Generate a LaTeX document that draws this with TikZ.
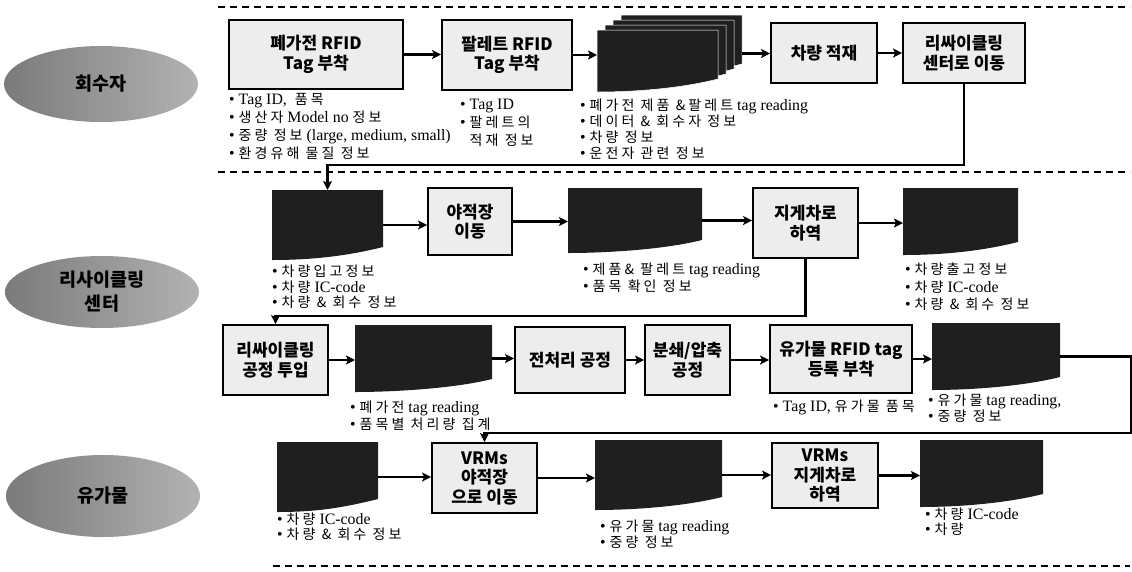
\documentclass[tikz,border=0pt]{standalone}
\usepackage{fontspec}
\setmainfont{Liberation Serif}[Scale=1.22]
\newfontfamily\kr{Noto Sans CJK KR}
\newfontfamily\kra{Noto Sans CJK KR}[LetterSpace=22]
\usetikzlibrary{arrows.meta,shapes.geometric}
\newcommand\kor[1]{{\kra\fontsize{14}{14}\selectfont #1}}
\newcommand\docshape[1]{%
  \fill[black!88] (#1.north west) -- (#1.north east) -- ([yshift=13pt]#1.south east)
    .. controls ([xshift=-40pt,yshift=3pt]#1.south east) and ([xshift=35pt,yshift=0pt]#1.south west) .. (#1.south west) -- cycle;}
\newcommand\docat[4]{% x1 y1 x2 y2 (y down)
  \fill[black!88,draw=white,line width=0.5pt] (#1,#2) -- (#3,#2) -- (#3,#4-13)
    .. controls (#3-40,#4-3) and (#1+35,#4) .. (#1,#4) -- cycle;}
\begin{document}
\begin{tikzpicture}[x=1pt,y=-1pt,
  proc/.style={draw=black, line width=1.8pt, fill=black!7, align=center, inner sep=0pt,
    font=\kr\bfseries\fontsize{17}{19.5}\selectfont},
  docn/.style={inner sep=0pt, outer sep=0pt},
  lane/.style={ellipse, minimum width=194pt, minimum height=76pt, inner sep=0pt, align=center,
    left color=black!52, right color=black!30, font=\kr\bfseries\fontsize{18.5}{24}\selectfont},
  anno/.style={anchor=north west, inner sep=0pt, align=left, font=\fontsize{13}{#1}\selectfont},
  anno/.default=17,
  arr/.style={line width=2.2pt, -{Stealth[length=9pt,width=9pt,inset=2pt]}},
  sep/.style={line width=1.4pt, dash pattern=on 7pt off 5pt}
]
\useasboundingbox (0,0) rectangle (1132,571);

% separators
\draw[sep] (218,7) -- (1130,7);
\draw[sep] (218,172) -- (1130,172);
\draw[sep] (273,566) -- (1130,566);

% lanes
\node[lane] (e1) at (101,84) {회수자};
\node[lane, minimum height=72pt] (e2) at (102,292) {리사이클링\\센터};
\node[lane, minimum height=82pt] (e3) at (103,496) {유가물};

% row 1
\node[proc, minimum width=174pt, minimum height=69pt] (b1) at (316,54.5) {폐가전 RFID\\Tag 부착};
\node[proc, minimum width=130pt, minimum height=70pt] (b2) at (507,55) {팔레트 RFID\\Tag 부착};
\node[docn, minimum width=145pt, minimum height=77pt] (st) at (669.5,53.5) {};
\docat{621}{15}{742}{77}
\docat{613}{20}{734}{82}
\docat{605}{25}{726}{87}
\docat{597}{30}{718}{92}
\node[proc, minimum width=106pt, minimum height=60pt] (b3) at (824,53) {차량 적재};
\node[proc, minimum width=122pt, minimum height=60pt] (b4) at (964,53) {리싸이클링\\센터로 이동};

% row 2
\node[docn, minimum width=111pt, minimum height=70pt] (d1) at (327.5,225) {};
\node[proc, minimum width=84pt, minimum height=67pt] (b5) at (470,221.5) {야적장\\이동};
\node[docn, minimum width=134pt, minimum height=65pt] (d2) at (635,220.5) {};
\node[proc, minimum width=105pt, minimum height=70pt] (b6) at (805.5,223) {지게차로\\하역};
\node[docn, minimum width=115pt, minimum height=67pt] (d3) at (960.5,221.5) {};

% row 3
\node[proc, minimum width=105pt, minimum height=70pt] (b7) at (275.5,360) {리싸이클링\\공정 투입};
\node[docn, minimum width=137pt, minimum height=67pt] (d4) at (423.5,358.5) {};
\node[proc, minimum width=110pt, minimum height=66pt] (b8) at (570,360) {전처리 공정};
\node[proc, minimum width=85pt, minimum height=70pt] (b9) at (687.5,360) {분쇄/압축\\공정};
\node[proc, minimum width=142pt, minimum height=68pt] (b10) at (841,359) {유가물 RFID tag\\등록 부착};
\node[docn, minimum width=128pt, minimum height=67pt] (d5) at (996,356.5) {};

% row 4
\node[docn, minimum width=101pt, minimum height=70pt] (d6) at (327.5,477) {};
\node[proc, minimum width=105pt, minimum height=70pt] (b11) at (484.5,478) {VRMs\\야적장\\으로 이동};
\node[docn, minimum width=127pt, minimum height=70pt] (d7) at (658.5,475) {};
\node[proc, minimum width=106pt, minimum height=65pt] (b12) at (825,475.5) {VRMs\\지게차로\\하역};
\node[docn, minimum width=123pt, minimum height=67pt] (d8) at (981.5,473.5) {};

\docshape{d1}\docshape{d2}\docshape{d3}\docshape{d4}
\docshape{d5}\docshape{d6}\docshape{d7}\docshape{d8}

% horizontal arrows
\draw[arr] (b1.east) -- (b1.east -| b2.west);
\draw[arr] (b2.east) -- (b2.east -| st.west);
\draw[arr] (st.east) -- (st.east -| b3.west);
\draw[arr] (b3.east) -- (b3.east -| b4.west);
\draw[arr] (d1.east) -- (d1.east -| b5.west);
\draw[arr] (b5.east) -- (b5.east -| d2.west);
\draw[arr] (d2.east) -- (d2.east -| b6.west);
\draw[arr] (b6.east) -- (b6.east -| d3.west);
\draw[arr] (b7.east) -- (b7.east -| d4.west);
\draw[arr] (d4.east) -- (d4.east -| b8.west);
\draw[arr] (b8.east) -- (b8.east -| b9.west);
\draw[arr] (b9.east) -- (b9.east -| b10.west);
\draw[arr] (b10.east) -- (b10.east -| d5.west);
\draw[arr] (d6.east) -- (d6.east -| b11.west);
\draw[arr] (b11.east) -- (b11.east -| d7.west);
\draw[arr] (d7.east) -- (d7.east -| b12.west);
\draw[arr] (b12.east) -- (b12.east -| d8.west);

% row transitions
\draw[arr] (b4.south) -- ++(0,81) -| (d1.north);
\draw[arr] (b6.south) -- ++(0,57) -| (b7.north);
\draw[arr] (d5.east) -- ++(71,0) -- ++(0,76.5) -| (b11.north);

% annotations
\node[anno=18] (a1) at (229,93) {• Tag ID,\ \ \kor{품목}\\• \kor{생산자} Model no \kor{정보}\\• \kor{중량 정보} (large, medium, small)\\• \kor{환경유해 물질 정보}};
\node[anno=18] (a2) at (460,99) {• Tag ID\\• \kor{팔레트의}\\\phantom{• }\kor{적재 정보}};
\node[anno=16] (a3) at (580,99) {• \kor{폐가전 제품 \&팔레트} tag reading\\• \kor{데이터 \& 회수자 정보}\\• \kor{차량 정보}\\• \kor{운전자 관련 정보}};
\node[anno=15.5] (a4) at (272,265) {• \kor{차량입고정보}\\• \kor{차량} IC-code\\• \kor{차량 \& 회수 정보}};
\node[anno=17] (a5) at (583,263) {• \kor{제품\& 팔레트} tag reading\\• \kor{품목 확인 정보}};
\node[anno=17.5] (a6) at (905,263) {• \kor{차량출고정보}\\• \kor{차량} IC-code\\• \kor{차량 \& 회수 정보}};
\node[anno=17] (a7) at (350,401) {• \kor{폐가전} tag reading\\• \kor{품목별 처리량 집계}};
\node[anno] (a8) at (773,400) {• Tag ID, \kor{유가물 품목}};
\node[anno=15] (a9) at (928,394) {• \kor{유가물} tag reading,\\• \kor{중량 정보}};
\node[anno=14.5] (a10) at (277,513) {• \kor{차량} IC-code\\• \kor{차량 \& 회수 정보}};
\node[anno=16] (a11) at (600,520) {• \kor{유가물} tag reading\\• \kor{중량 정보}};
\node[anno=15] (a12) at (925,508) {• \kor{차량} IC-code\\• \kor{차량}};
\end{tikzpicture}
\end{document}
